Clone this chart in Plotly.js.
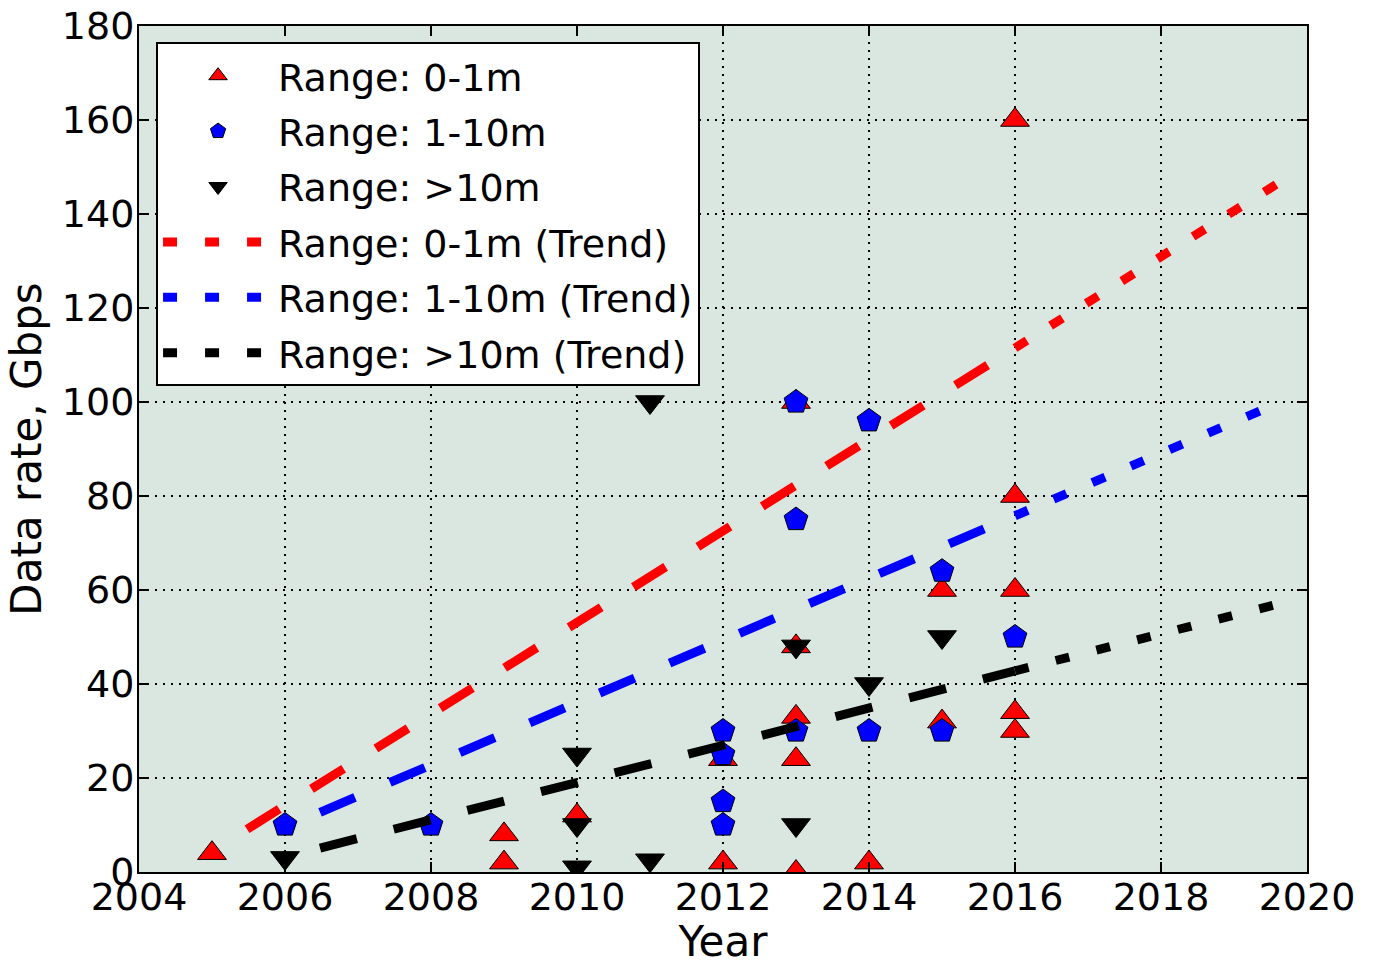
<!DOCTYPE html>
<html>
<head>
<meta charset="utf-8">
<script src="https://cdn.plot.ly/plotly-3.0.1.min.js"></script>
<style>html,body{margin:0;padding:0;background:#fff;}#chart{width:1377px;height:966px;}</style>
</head>
<body>
<div id="chart"></div>
<script>
// Scatter data (Year, Data rate in Gbps)
const redX   = [2005, 2009, 2009, 2010, 2012, 2012, 2013, 2013, 2013, 2013, 2013, 2014, 2015, 2015, 2016, 2016, 2016, 2016, 2016];
const redY   = [4, 8, 2, 12, 24, 2, 100, 48, 33, 24, 0, 2, 60, 32, 160, 80, 60, 34, 30];
const blueX  = [2006, 2008, 2012, 2012, 2012, 2012, 2013, 2013, 2013, 2014, 2014, 2015, 2015, 2016];
const blueY  = [10, 10, 30, 25, 15, 10, 100, 75, 30, 96, 30, 64, 30, 50];
const blackX = [2006, 2010, 2010, 2010, 2011, 2011, 2013, 2013, 2014, 2015];
const blackY = [3, 25, 10, 1, 100, 2.5, 48, 10, 40, 50];

// Trend lines: fitted range (dashed) and extrapolation (dotted)
const redFitX   = [2005.48, 2016];  const redFitY   = [9.1, 111.5];
const redExtX   = [2016, 2019.6];   const redExtY   = [111.5, 146.5];
const blueFitX  = [2006.48, 2016];  const blueFitY  = [12.7, 75.8];
const blueExtX  = [2016, 2019.6];   const blueExtY  = [75.8, 99.7];
const blackFitX = [2006.48, 2016];  const blackFitY = [5.1, 42.8];
const blackExtX = [2016, 2019.6];   const blackExtY = [42.8, 57.0];

const names = ['Range: 0-1m', 'Range: 1-10m', 'Range: >10m',
               'Range: 0-1m (Trend)', 'Range: 1-10m (Trend)', 'Range: >10m (Trend)'];
const xTicks = [2004, 2006, 2008, 2010, 2012, 2014, 2016, 2018, 2020];
const yTicks = [0, 20, 40, 60, 80, 100, 120, 140, 160, 180];

const LW = 9;
const DASH = '38px,38px';
const DOT = '14px,28px';
const MS_TRI = 25, MS_PENT = 25;

function markers(x, y, name, sym, color, size, rank) {
  return {type:'scatter', mode:'markers', x:x, y:y, name:name, legendrank:rank,
    legendgroup:'g' + rank,
    marker:{symbol:sym, color:color, size:size, line:{color:'#000', width:1}}};
}
function line(x, y, name, color, dash, show, rank) {
  return {type:'scatter', mode:'lines', x:x, y:y, name:name, showlegend:show, legendrank:rank,
    legendgroup:'g' + rank,
    line:{color:color, width:LW, dash:dash}};
}

const traces = [
  markers(redX, redY, names[0], 'triangle-up', '#ff0000', MS_TRI, 1),
  line(redFitX, redFitY, names[3], '#ff0000', DASH, false, 4),
  line(redExtX, redExtY, names[3], '#ff0000', DOT, true, 4),
  markers(blueX, blueY, names[1], 'pentagon', '#0000ff', MS_PENT, 2),
  line(blueFitX, blueFitY, names[4], '#0000ff', DASH, false, 5),
  line(blueExtX, blueExtY, names[4], '#0000ff', DOT, true, 5),
  markers(blackX, blackY, names[2], 'triangle-down', '#000000', MS_TRI, 3),
  line(blackFitX, blackFitY, names[5], '#000000', DASH, false, 6),
  line(blackExtX, blackExtY, names[5], '#000000', DOT, true, 6)
];

const font = {family:'DejaVu Sans, Verdana, sans-serif', color:'#000'};
const axisCommon = {
  showline:true, linecolor:'#000', linewidth:2, mirror:'allticks',
  ticks:'inside', ticklen:10, tickwidth:1.5, tickcolor:'#000',
  showgrid:true, gridcolor:'#000', gridwidth:1.5, griddash:'2px,6px',
  zeroline:false, tickfont:Object.assign({size:38}, font)
};

const layout = {
  width:1377, height:966,
  margin:{l:139, r:70, t:26, b:94},
  paper_bgcolor:'#ffffff', plot_bgcolor:'#d9e7e0',
  font:font,
  xaxis:Object.assign({}, axisCommon, {
    range:[2004, 2020], tickvals:xTicks, ticktext:xTicks.map(String),
    ticklabelstandoff:-10,
    title:{text:'Year', font:Object.assign({size:42}, font), standoff:6}
  }),
  yaxis:Object.assign({}, axisCommon, {
    range:[0, 180], tickvals:yTicks, ticktext:yTicks.map(String),
    ticklabelstandoff:-5,
    title:{text:'Data rate, Gbps', font:Object.assign({size:42}, font), standoff:7}
  }),
  legend:{x:0.0146, y:0.9805, xanchor:'left', yanchor:'top',
    bgcolor:'#ffffff', bordercolor:'#000', borderwidth:2,
    font:Object.assign({size:38}, font), itemwidth:110,
    traceorder:'grouped', tracegroupgap:3},
  showlegend:true
};

Plotly.newPlot('chart', traces, layout, {displayModeBar:false, staticPlot:true});
</script>
</body>
</html>
